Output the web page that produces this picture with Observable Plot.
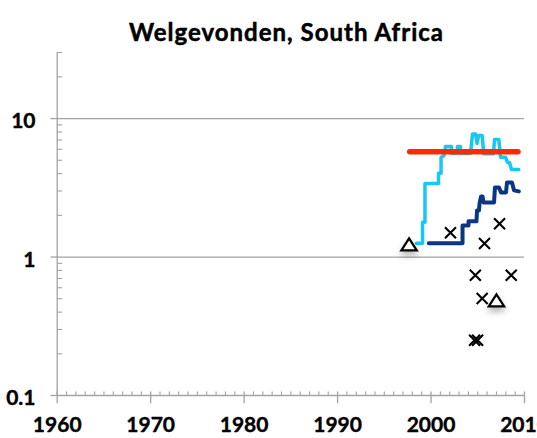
<!DOCTYPE html>
<html><head><meta charset="utf-8">
<script src="https://cdn.jsdelivr.net/npm/d3@7"></script>
<script src="https://cdn.jsdelivr.net/npm/@observablehq/plot@0.6"></script>
<style>
html,body{margin:0;padding:0;background:#fff;overflow:hidden;}
#title{box-sizing:border-box;height:50px;padding-top:18px;padding-left:36px;text-align:center;font-family:Lato,sans-serif;font-weight:bold;font-size:24px;letter-spacing:1px;line-height:28.8px;color:#000;white-space:nowrap;-webkit-text-stroke:0.5px #000;}
#chart svg{display:block;overflow:visible;}
</style></head><body>
<div id="title">Welgevonden, South Africa</div>
<div id="chart"></div>
<script>
// ---- data ----
const xTicks = [1960, 1970, 1980, 1990, 2000, 2010];
const xTickLabels = ["1960", "1970", "1980", "1990", "2000", "2010"];
const yTicks = [0.1, 1, 10];
const yTickLabels = ["0.1", "1", "10"];
const yGrid = [1, 10];

const cyanYears = [1998.44, 1999.09, 1999.09, 1999.35, 1999.35, 2000.80, 2000.80, 2001.07, 2001.07, 2001.39, 2001.55, 2002.19, 2002.19, 2002.83, 2002.83, 2003.15, 2003.15, 2004.22, 2004.44, 2004.76, 2004.93, 2005.08, 2005.47, 2005.64, 2006.68, 2006.79, 2007.25, 2007.43, 2007.97, 2008.18, 2008.40, 2008.61, 2009.39];
const cyanValues = [1.26, 1.26, 1.78, 1.78, 3.40, 3.40, 4.02, 4.02, 5.24, 5.41, 6.29, 6.29, 5.60, 5.60, 6.29, 6.29, 5.60, 5.60, 7.74, 7.74, 6.61, 7.55, 7.55, 5.57, 5.57, 7.06, 7.06, 5.26, 5.26, 4.82, 4.82, 4.29, 4.29];

const navyYears = [1999.76, 2003.37, 2003.37, 2004.01, 2004.01, 2004.86, 2004.92, 2005.13, 2005.19, 2005.35, 2005.51, 2005.61, 2006.74, 2006.84, 2007.27, 2007.49, 2008.02, 2008.13, 2008.66, 2008.88, 2009.39];
const navyValues = [1.26, 1.26, 1.69, 1.69, 1.81, 1.81, 2.17, 2.17, 2.44, 2.74, 2.74, 2.48, 2.48, 3.18, 3.18, 2.93, 2.93, 3.46, 3.46, 3.03, 2.98];

const redYears = [1997.72, 2009.30];
const redValues = [5.77, 5.77];

const crossYears = [2002.08, 2007.33, 2005.72, 2004.74, 2008.58, 2005.47, 2004.66, 2004.98];
const crossValues = [1.50, 1.74, 1.25, 0.738, 0.738, 0.501, 0.251, 0.251];

const triangleYears = [1997.65, 2007.0];
const triangleValues = [1.235, 0.487];

// ---- build ----
const zip = (xs, ys) => xs.map((x, i) => ({x, y: ys[i]}));
const cyan = zip(cyanYears, cyanValues);
const navy = zip(navyYears, navyValues);
const red = zip(redYears, redValues);
const crosses = zip(crossYears, crossValues);
const triangles = zip(triangleYears, triangleValues);

const minorYears = d3.range(1961, 2010).filter(y => y % 10 !== 0);
const minorY = [0.2,0.3,0.4,0.5,0.6,0.7,0.8,0.9,2,3,4,5,6,7,8,9,20,30];

const AX = "#A3A3A3";
const sym = f => ({draw: f});
const xMajorSym = sym(c => { c.moveTo(0, -4); c.lineTo(0, 7.7); });
const xMinorSym = sym(c => { c.moveTo(0, -4); c.lineTo(0, 0); });
const yMajorSym = sym(c => { c.moveTo(-6.7, 0); c.lineTo(0, 0); });
const yMinorSym = sym(c => { c.moveTo(0, 0); c.lineTo(5, 0); });
const crossSym = sym(c => { const r = 5.5; c.moveTo(-r, -r); c.lineTo(r, r); c.moveTo(-r, r); c.lineTo(r, -r); });
const triSym = sym(c => { c.moveTo(0, -6); c.lineTo(7.7, 6); c.lineTo(-7.7, 6); c.closePath(); });

const labelFont = {fontFamily: "Lato, sans-serif", fontWeight: "bold", fontSize: 21, fill: "#000", stroke: "#000", strokeWidth: 0.4};

const chart = Plot.plot({
  width: 537,
  height: 388,
  marginLeft: 56.7,
  marginRight: 13,
  marginTop: 2,
  marginBottom: 43,
  x: {type: "linear", domain: [1960, 2010], axis: null},
  y: {type: "log", domain: [0.1, 30], axis: null},
  marks: [
    Plot.ruleY(yGrid, {y: d => d, x1: () => 1960, x2: () => 2010, stroke: AX, strokeWidth: 1.3}),
    Plot.ruleX([1960], {x: d => d, y1: () => 0.1, y2: () => 30, stroke: AX, strokeWidth: 1.3}),
    Plot.ruleY([0.1], {y: d => d, x1: () => 1960, x2: () => 2010, stroke: AX, strokeWidth: 1.3}),
    Plot.dot(xTicks, {x: d => d, y: () => 0.1, symbol: xMajorSym, fill: "none", stroke: AX, strokeWidth: 1.3}),
    Plot.dot(minorYears, {x: d => d, y: () => 0.1, symbol: xMinorSym, fill: "none", stroke: AX, strokeWidth: 1.1}),
    Plot.dot(yTicks, {x: () => 1960, y: d => d, symbol: yMajorSym, fill: "none", stroke: AX, strokeWidth: 1.3}),
    Plot.dot(minorY, {x: () => 1960, y: d => d, symbol: yMinorSym, fill: "none", stroke: AX, strokeWidth: 1.1}),
    Plot.text(xTicks, {x: d => d, y: () => 0.1, text: (d, i) => xTickLabels[i], dy: 29.5, ...labelFont}),
    Plot.text(yTicks, {x: () => 1960, y: d => d, text: (d, i) => yTickLabels[i], textAnchor: "end", dx: -21.7, dy: 3, ...labelFont}),
    Plot.line(cyan, {x: "x", y: "y", stroke: "#1AC6F5", strokeWidth: 3.5, strokeLinejoin: "round"}),
    Plot.line(navy, {x: "x", y: "y", stroke: "#0A3782", strokeWidth: 4, strokeLinejoin: "round"}),
    Plot.line(red, {x: "x", y: "y", stroke: "#FF2A00", strokeWidth: 5.5, strokeLinecap: "round"}),
    Plot.dot(crosses, {x: "x", y: "y", symbol: crossSym, fill: "none", stroke: "#000", strokeWidth: 2.1}),
    Plot.dot(triangles, {x: "x", y: "y", symbol: triSym, fill: "#fff", stroke: "#000", strokeWidth: 2.2, ariaDescription: "triangles"})
  ]
});
chart.querySelectorAll('[aria-description="triangles"]').forEach(g => {
  g.style.filter = "drop-shadow(0px 4px 3px rgba(0,0,0,0.3))";
});
document.getElementById("chart").appendChild(chart);
</script>
</body></html>
